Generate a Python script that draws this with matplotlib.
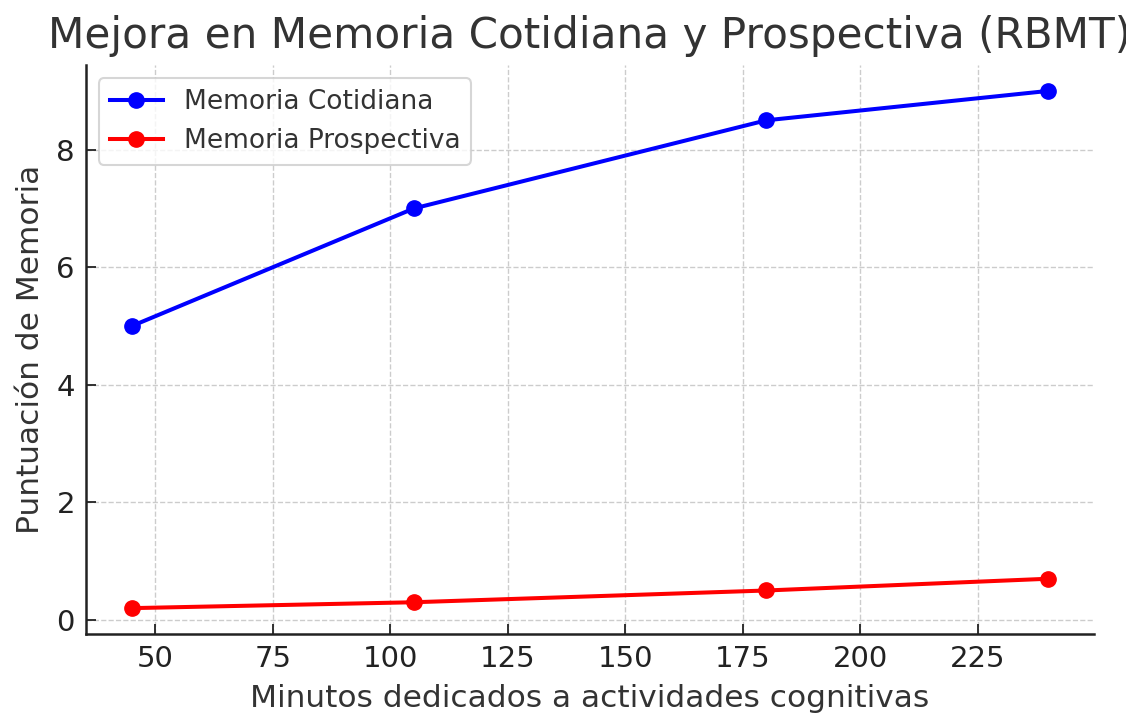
import matplotlib.pyplot as plt

# Datos
minutos = [45, 105, 180, 240]
memoria_cotidiana = [5, 7, 8.5, 9]
memoria_prospectiva = [0.2, 0.3, 0.5, 0.7]

plt.rcParams['font.family'] = 'DejaVu Sans'
plt.rcParams['text.color'] = '#333333'
plt.rcParams['axes.labelcolor'] = '#333333'

fig = plt.figure(figsize=(11.26, 7.15), dpi=100)
ax = fig.add_axes([0.0764, 0.1133, 0.8952, 0.7957])

ax.plot(minutos, memoria_cotidiana, marker='o', color='blue', linewidth=2.9,
        markersize=11, label='Memoria Cotidiana')
ax.plot(minutos, memoria_prospectiva, marker='o', color='red', linewidth=2.9,
        markersize=11, label='Memoria Prospectiva')

ax.set_title('Mejora en Memoria Cotidiana y Prospectiva (RBMT)', fontsize=30.3, pad=12)
ax.set_xlabel('Minutos dedicados a actividades cognitivas', fontsize=22.5, labelpad=8)
ax.set_ylabel('Puntuación de Memoria', fontsize=22.5, labelpad=8)
ax.set_xticks([50, 75, 100, 125, 150, 175, 200, 225])
ax.set_yticks([0, 2, 4, 6, 8])
ax.tick_params(axis='both', labelsize=21, direction='in', length=7, width=1.3,
               colors='#222222', pad=8)

ax.grid(True, linestyle='--', color='#cccccc', linewidth=1)
for s in ['top', 'right']:
    ax.spines[s].set_visible(False)
for s in ['left', 'bottom']:
    ax.spines[s].set_linewidth(1.8)
    ax.spines[s].set_color('#222222')

leg = ax.legend(loc='upper left', fontsize=19, frameon=True, fancybox=True)
leg.get_frame().set_edgecolor('#cccccc')
leg.get_frame().set_linewidth(1.5)

fig.savefig('out.png', dpi=100)
